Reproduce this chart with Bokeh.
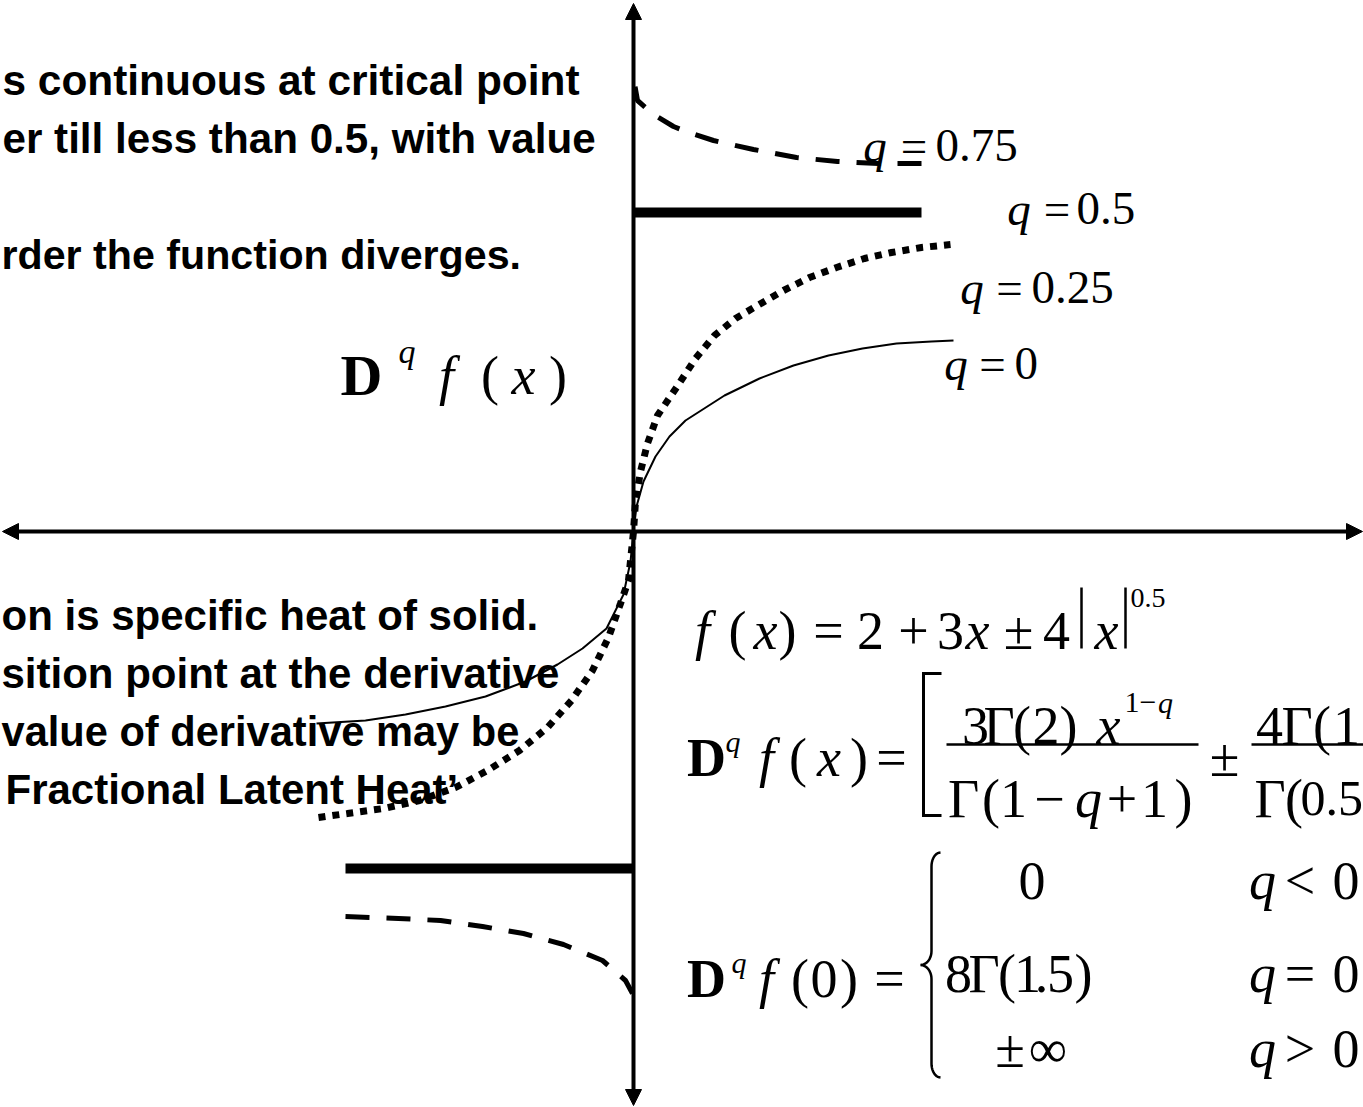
import numpy as np
from bokeh.plotting import figure
from bokeh.models import Range1d, ColumnDataSource, Arrow, NormalHead
from bokeh.embed import file_html
from bokeh.resources import INLINE

W, H = 1363, 1107
OX, OY = 633, 531      # screen position of the origin
S = 100.0              # screen pixels per data unit


def X(px):
    return (px - OX) / S


def Y(py):
    return (OY - py) / S


nan = float("nan")

# ---- D^q f(x) for the orders q = 0, 0.25, 0.5, 0.75 (data units) ----
q0_x = [-3.17, -2.68, -2.28, -1.88, -1.48, -1.08, -0.76, -0.51, -0.27, -0.10, -0.03, 0.0,
        0.03, 0.10, 0.22, 0.36, 0.52, 0.91, 1.26, 1.60, 1.95, 2.29, 2.63, 2.98, 3.20]
q0_y = [-1.92, -1.89, -1.83, -1.75, -1.65, -1.50, -1.33, -1.17, -0.97, -0.63, -0.30, 0.0,
        0.25, 0.50, 0.75, 0.95, 1.11, 1.36, 1.53, 1.66, 1.76, 1.83, 1.88, 1.90, 1.91]

q025_x = [-3.15, -2.86, -2.50, -2.14, -1.78, -1.46, -1.14, -0.86, -0.62, -0.41, -0.25, -0.13,
          -0.05, 0.0, 0.02, 0.07, 0.14, 0.24, 0.43, 0.62, 0.81, 1.02, 1.24, 1.50, 1.76, 2.03,
          2.31, 2.58, 2.88, 3.17]
q025_y = [-2.86, -2.82, -2.77, -2.69, -2.56, -2.39, -2.19, -1.96, -1.69, -1.39, -1.06, -0.72,
          -0.49, 0.0, 0.30, 0.60, 0.88, 1.16, 1.44, 1.73, 1.96, 2.13, 2.26, 2.41, 2.54, 2.64,
          2.73, 2.79, 2.84, 2.87]

q05_x = [-2.88, 0.0, nan, 0.0, 2.88]
q05_y = [-3.37, -3.37, nan, 3.19, 3.19]

q075_upper_x = [2.88, 2.45, 2.04, 1.63, 1.20, 0.80, 0.58, 0.40, 0.20, 0.04, 0.01]
q075_upper_y = [3.68, 3.68, 3.70, 3.74, 3.82, 3.91, 3.98, 4.05, 4.17, 4.31, 4.48]
q075_lower_x = [-2.88, -2.35, -1.93, -1.51, -1.10, -0.70, -0.31, -0.08, -0.01]
q075_lower_y = [-3.85, -3.87, -3.89, -3.95, -4.02, -4.13, -4.29, -4.49, -4.62]

p = figure(width=W, height=H,
           x_range=Range1d(X(0), X(W)), y_range=Range1d(Y(H), Y(0)),
           x_axis_location=None, y_axis_location=None,
           output_backend="svg", toolbar_location=None, min_border=0)
p.grid.visible = False
p.outline_line_color = None
p.background_fill_color = "white"
p.border_fill_color = "white"

# coordinate axes with arrow heads at both ends
for xs, ys, xe, ye in [(X(633), Y(1105), X(633), Y(3)),
                       (X(2), Y(531), X(1362), Y(531))]:
    p.add_layout(Arrow(start=NormalHead(size=16, fill_color="black", line_color="black"),
                       end=NormalHead(size=16, fill_color="black", line_color="black"),
                       x_start=xs, y_start=ys, x_end=xe, y_end=ye,
                       line_width=4, line_color="black"))

# curves
p.line(q0_x, q0_y, line_color="black", line_width=2)
p.line(q025_x, q025_y, line_color="black", line_width=7, line_dash="7 7", line_cap="butt")
p.line(q05_x, q05_y, line_color="black", line_width=10, line_cap="butt")
p.line(q075_upper_x, q075_upper_y, line_color="black", line_width=5, line_dash="24 17",
       line_cap="butt")
p.line(q075_lower_x, q075_lower_y, line_color="black", line_width=5, line_dash="24 17",
       line_cap="butt")

# ---- text ----
tokens = []
SERIF = "Liberation Serif"
SANS = "Liberation Sans"


def tok(text, x, y, size, style="normal", font=SERIF, align="center"):
    tokens.append((text, X(x), Y(y), f"{size}px", style, font, align))


# explanatory notes (left side)
tok("s continuous at critical point", 2, 80, 42.4, "bold", SANS, "left")
tok("er till less than 0.5, with value", 2, 138, 42.2, "bold", SANS, "left")
tok("rder the function diverges.", 1, 254, 41.2, "bold", SANS, "left")
tok("on is specific heat of solid.", 1, 615, 42, "bold", SANS, "left")
tok("sition point at the derivative", 1, 673, 42, "bold", SANS, "left")
tok("value of derivative may be", 1, 731, 41.6, "bold", SANS, "left")
tok("Fractional Latent Heat\u2019", 5, 789, 42, "bold", SANS, "left")

# curve labels
tok("q", 874.5, 145, 47, "italic"); tok("=", 913.5, 145, 47); tok("0.75", 935, 145, 47, align="left")
tok("q", 1018.5, 208, 47, "italic"); tok("=", 1056.5, 208, 47); tok("0.5", 1076, 208, 47, align="left")
tok("q", 971.5, 287, 47, "italic"); tok("=", 1009, 287, 47); tok("0.25", 1031, 287, 47, align="left")
tok("q", 955.5, 363, 47, "italic"); tok("=", 992, 363, 47); tok("0", 1014, 363, 47, align="left")

# vertical axis label  D^q f(x)
tok("D", 361, 375, 58, "bold"); tok("q", 406.5, 351, 34, "italic")
tok("f", 446, 375, 54, "italic"); tok("(", 489.5, 375, 54)
tok("x", 523, 375, 54, "italic"); tok(")", 557.5, 375, 54)

# f(x) = 2 + 3x ± 4|x|^0.5
b = 630
tok("f", 702, b, 54, "italic"); tok("(", 737, b, 54); tok("x", 765, b, 54, "italic")
tok(")", 787, b, 54); tok("=", 828, b, 54); tok("2", 870, b, 54); tok("+", 913, b, 54)
tok("3", 950, b, 54); tok("x", 977, b, 54, "italic"); tok("\u00b1", 1018, b, 54)
tok("4", 1056, b, 54); tok("x", 1106, b, 54, "italic")
tok("0.5", 1130, 597, 28, align="left")

# D^q f(x) = [ ... ]
b = 757
tok("D", 706, b, 54, "bold"); tok("q", 732.5, 741, 30, "italic")
tok("f", 766, b, 54, "italic"); tok("(", 797.5, b, 54); tok("x", 828.5, b, 54, "italic")
tok(")", 858.5, b, 54); tok("=", 891, b, 54)
n = 725
tok("3", 975, n, 54); tok("\u0393", 998.5, n, 54); tok("(", 1021.5, n, 54); tok("2", 1045.5, n, 54)
tok(")", 1068, n, 54); tok("x", 1108, n, 54, "italic")
tok("1\u2212", 1124, 702, 30, align="left"); tok("q", 1165, 702, 30, "italic")
d = 798
tok("\u0393", 963, d, 54); tok("(", 990.5, d, 54); tok("1", 1013, d, 54); tok("\u2212", 1049, d, 54)
tok("q", 1088, d, 54, "italic"); tok("+", 1121.5, d, 54); tok("1", 1154, d, 54); tok(")", 1183, d, 54)
tok("\u00b1", 1224, b, 54)
tok("4", 1269, n, 54); tok("\u0393", 1296.5, n, 54); tok("(", 1321.5, n, 54); tok("1", 1346, n, 54)
tok("\u0393", 1269.5, d, 54); tok("(", 1293.5, d, 54); tok("0.5", 1300, d, 50, align="left")

# D^q f(0) = { ... }
b = 978
tok("D", 706, b, 54, "bold"); tok("q", 738.5, 962, 30, "italic")
tok("f", 766, b, 54, "italic"); tok("(", 799.5, b, 54); tok("0", 823.5, b, 54)
tok(")", 848.5, b, 54); tok("=", 889, b, 54)
r1, r2, r3 = 880, 973, 1048
tok("0", 1031.5, r1, 54)
tok("q", 1262, r1, 54, "italic"); tok("<", 1299.5, r1, 54); tok("0", 1345.5, r1, 54)
tok("8", 958, r2, 54); tok("\u0393", 983.5, r2, 54); tok("(", 1006.5, r2, 54); tok("1", 1027, r2, 54)
tok(".", 1041, r2, 54); tok("5", 1060, r2, 54); tok(")", 1083, r2, 54)
tok("q", 1262, r2, 54, "italic"); tok("=", 1299.5, r2, 54); tok("0", 1345.5, r2, 54)
tok("\u00b1", 1009.5, r3, 54); tok("\u221e", 1047.5, r3, 54)
tok("q", 1262, r3, 54, "italic"); tok(">", 1299.5, r3, 54); tok("0", 1345.5, r3, 54)

src = ColumnDataSource(dict(
    text=[t[0] for t in tokens], x=[t[1] for t in tokens], y=[t[2] for t in tokens],
    fsize=[t[3] for t in tokens], fstyle=[t[4] for t in tokens],
    fname=[t[5] for t in tokens], talign=[t[6] for t in tokens]))
p.text(x="x", y="y", text="text", text_font="fname", text_font_size="fsize",
       text_font_style="fstyle", text_align="talign", text_baseline="alphabetic",
       text_color="black", source=src)

# ---- formula strokes: absolute bars, fraction bars, bracket, brace ----
seg_x0 = [X(1081), X(1125), X(946), X(1251)]
seg_y0 = [Y(587), Y(587), Y(744), Y(744)]
seg_x1 = [X(1081), X(1125), X(1198), X(1370)]
seg_y1 = [Y(648), Y(648), Y(744), Y(744)]
p.segment(seg_x0, seg_y0, seg_x1, seg_y1, line_color="black", line_width=2.5)

p.line([X(941), X(923), X(923), X(941)], [Y(673), Y(673), Y(815), Y(815)],
       line_color="black", line_width=3, line_join="miter")


def brace(x_tip, x_mid, x_end, y_top, y_bot, r=14):
    ym = (y_top + y_bot) / 2
    px_, py_ = [], []
    t = np.linspace(-np.pi / 2, -np.pi, 12)
    px_ += list(x_end + (x_end - x_mid) * np.cos(t)); py_ += list(y_top + r + r * np.sin(t))
    t = np.linspace(0, np.pi / 2, 12)
    px_ += list(x_tip + (x_mid - x_tip) * np.cos(t)); py_ += list(ym - r + r * np.sin(t))
    t = np.linspace(-np.pi / 2, 0, 12)
    px_ += list(x_tip + (x_mid - x_tip) * np.cos(t)); py_ += list(ym + r + r * np.sin(t))
    t = np.linspace(np.pi, np.pi / 2, 12)
    px_ += list(x_end + (x_end - x_mid) * np.cos(t)); py_ += list(y_bot - r + r * np.sin(t))
    return [X(v) for v in px_], [Y(v) for v in py_]


bx, by = brace(920, 931, 940, 852, 1077)
p.line(bx, by, line_color="black", line_width=2.5)

open("out.html", "w").write(file_html(p, INLINE))
